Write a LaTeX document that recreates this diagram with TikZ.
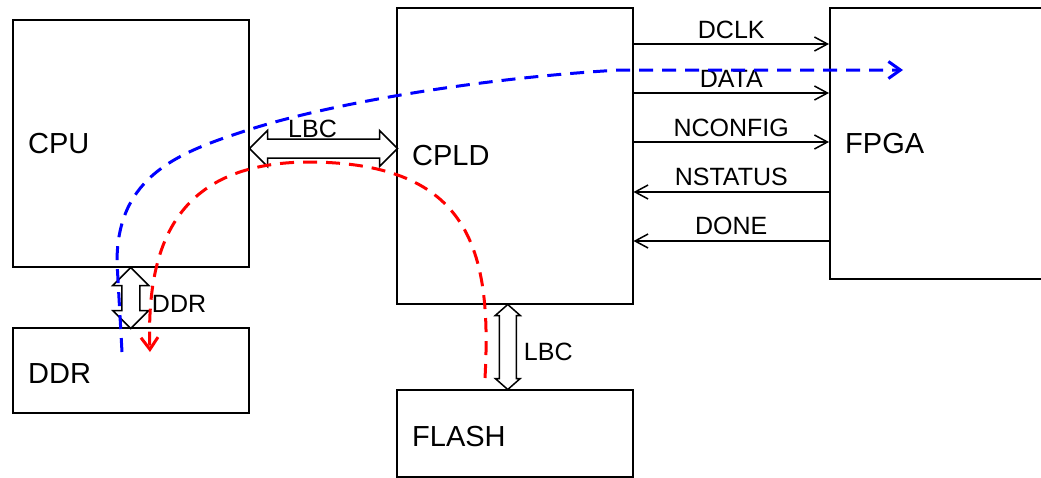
\documentclass[tikz,border=0pt]{standalone}
\usepackage{fontspec}
\setmainfont{Liberation Sans}
\usetikzlibrary{arrows.meta,calc}
\tikzset{
	blk/.style={draw,line width=1.5pt,anchor=north west,inner sep=0pt},
	blkname/.style={anchor=west,inner sep=0pt,font=\fontsize{29}{32}\selectfont},
	sig/.style={line width=1.5pt,-{Straight Barb[length=13pt,width=14pt]}},
	siglabel/.style={inner sep=0pt,font=\fontsize{25}{27}\selectfont},
	fat/.style={draw,line width=1.5pt,line join=miter},
	flow/.style={line width=3pt,dash pattern=on 14pt off 9pt}
}
\begin{document}
\begin{tikzpicture}[x=1pt,y=-1pt]
					\useasboundingbox (0,0) rectangle (1041,477);
					\clip (0,0) rectangle (1041,477);
					\node[blk,minimum width=236pt,minimum height=247pt] (cpu) at (12,19) {};
					\node[blk,minimum width=236pt,minimum height=296pt] (cpld) at (396,7) {};
					\node[blk,minimum width=260pt,minimum height=271pt] (fpga) at (829,7) {};
					\node[blk,minimum width=236pt,minimum height=85pt] (ddr) at (12,327) {};
					\node[blk,minimum width=236pt,minimum height=87pt] (flash) at (396,389) {};
					\node[blkname] (cpuname) at ($(cpu.west)+(16,0)$) {CPU};
					\node[blkname] (cpldname) at ($(cpld.west)+(16,0)$) {CPLD};
					\node[blkname] (fpganame) at ($(fpga.west)+(16,0)$) {FPGA};
					\node[blkname] (ddrname) at ($(ddr.west)+(16,3)$) {DDR};
					\node[blkname] (flashname) at ($(flash.west)+(16,3)$) {FLASH};
					\draw[sig] (cpld.east |- 0,44) -- (fpga.west |- 0,44) node[midway,above=5pt,siglabel] (dclk) {DCLK};
					\draw[sig] (cpld.east |- 0,93) -- (fpga.west |- 0,93) node[midway,above=5pt,siglabel] (data) {DATA};
					\draw[sig] (cpld.east |- 0,142) -- (fpga.west |- 0,142) node[midway,above=5pt,siglabel] (nconfig) {NCONFIG};
					\draw[sig] (fpga.west |- 0,192) -- (cpld.east |- 0,192) node[midway,above=6pt,siglabel] (nstatus) {NSTATUS};
					\draw[sig] (fpga.west |- 0,241) -- (cpld.east |- 0,241) node[midway,above=6pt,siglabel] (done) {DONE};
					\coordinate (lbcstart) at (cpu.east |- 0,148.5);
					\coordinate (ddrstart) at (cpu.south);
					\coordinate (flashstart) at ($(cpld.south)+(-7,0)$);
					\draw[fat] (lbcstart) -- ++(18,-18) -- ++(0,8.5) -- ++(112,0) -- ++(0,-8.5) -- ++(18,18) -- ++(-18,18) -- ++(0,-8.5) -- ++(-112,0) -- ++(0,8.5) -- cycle;
					\draw[fat] (ddrstart) -- ++(-18,18) -- ++(9,0) -- ++(0,25) -- ++(-9,0) -- ++(18,18) -- ++(18,-18) -- ++(-9,0) -- ++(0,-25) -- ++(9,0) -- cycle;
					\draw[fat] (flashstart) -- ++(-12.5,11) -- ++(4,0) -- ++(0,63) -- ++(-4,0) -- ++(12.5,11) -- ++(12.5,-11) -- ++(-4,0) -- ++(0,-63) -- ++(4,0) -- cycle;
					\node[siglabel,anchor=south] (lbc) at ($(lbcstart)+(63,-10.5)$) {LBC};
					\node[siglabel,anchor=west] (ddrlabel) at ($(ddrstart)+(21,36)$) {DDR};
					\node[siglabel,anchor=west] (lbcflash) at ($(flashstart)+(16,47)$) {LBC};
					\draw[flow,blue,-{Straight Barb[length=12pt,width=17pt]}] (122,352) -- (117,262) .. controls (117,175) and (180,152) .. (248,130) .. controls (330,103.5) and (480,78) .. (620,70) -- (903,70);
					\draw[flow,red,-{Straight Barb[length=12pt,width=17pt]}] (485,378) .. controls (492,250) and (470,163) .. (310,162) .. controls (180,162) and (146,240) .. (150,352);
				\end{tikzpicture}
\end{document}
